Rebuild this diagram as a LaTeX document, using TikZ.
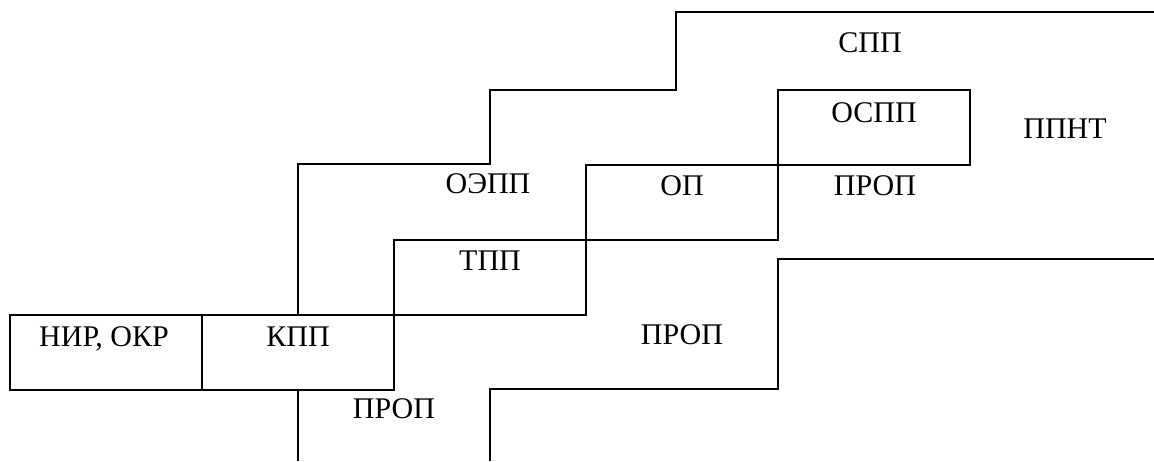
\documentclass[tikz,border=0pt]{standalone}
\usepackage{fontspec}
\setmainfont{Liberation Serif}
\begin{document}
\begin{tikzpicture}[x=1pt,y=-1pt,line width=1.6pt,
  box/.style={draw,minimum width=192pt,minimum height=75pt,inner sep=0pt,outer sep=0pt,anchor=north west},
  lbl/.style={font=\fontsize{30}{32}\selectfont,inner sep=0pt,anchor=base}]
\useasboundingbox (0,0) rectangle (1154,461);
% boxes
\node[box] (nir) at (10,315) {};
\node[box] (kpp) at (202,315) {};
\node[box] (tpp) at (394,240) {};
\node[box] (op) at (586,165) {};
\node[box] (ospp) at (778,90) {};
% step boundaries
\coordinate (u1) at (298,164);
\coordinate (u2) at (490,164);
\coordinate (u3) at (490,90);
\coordinate (u4) at (676,90);
\coordinate (u5) at (676,12);
\coordinate (u6) at (1154,12);
\draw (kpp.north) -- (u1) -- (u2) -- (u3) -- (u4) -- (u5) -- (u6);
\coordinate (d0) at (298,461);
\draw (kpp.south) -- (d0);
\coordinate (l1) at (490,461);
\coordinate (l2) at (490,389);
\coordinate (l3) at (778,389);
\coordinate (l4) at (778,259);
\coordinate (l5) at (1154,259);
\draw (l1) -- (l2) -- (l3) -- (l4) -- (l5);
% labels
\node[lbl] (t1) at (104,346) {НИР, ОКР};
\node[lbl] (t2) at (298,346) {КПП};
\node[lbl] (t3) at (394,418) {ПРОП};
\node[lbl] (t4) at (490,270) {ТПП};
\node[lbl] (t5) at (488,193) {ОЭПП};
\node[lbl] (t6) at (682,195) {ОП};
\node[lbl] (t7) at (682,344) {ПРОП};
\node[lbl] (t8) at (875,195) {ПРОП};
\node[lbl] (t9) at (874,122) {ОСПП};
\node[lbl] (t10) at (1065,138) {ППНТ};
\node[lbl] (t11) at (870,52) {СПП};
\end{tikzpicture}
\end{document}
